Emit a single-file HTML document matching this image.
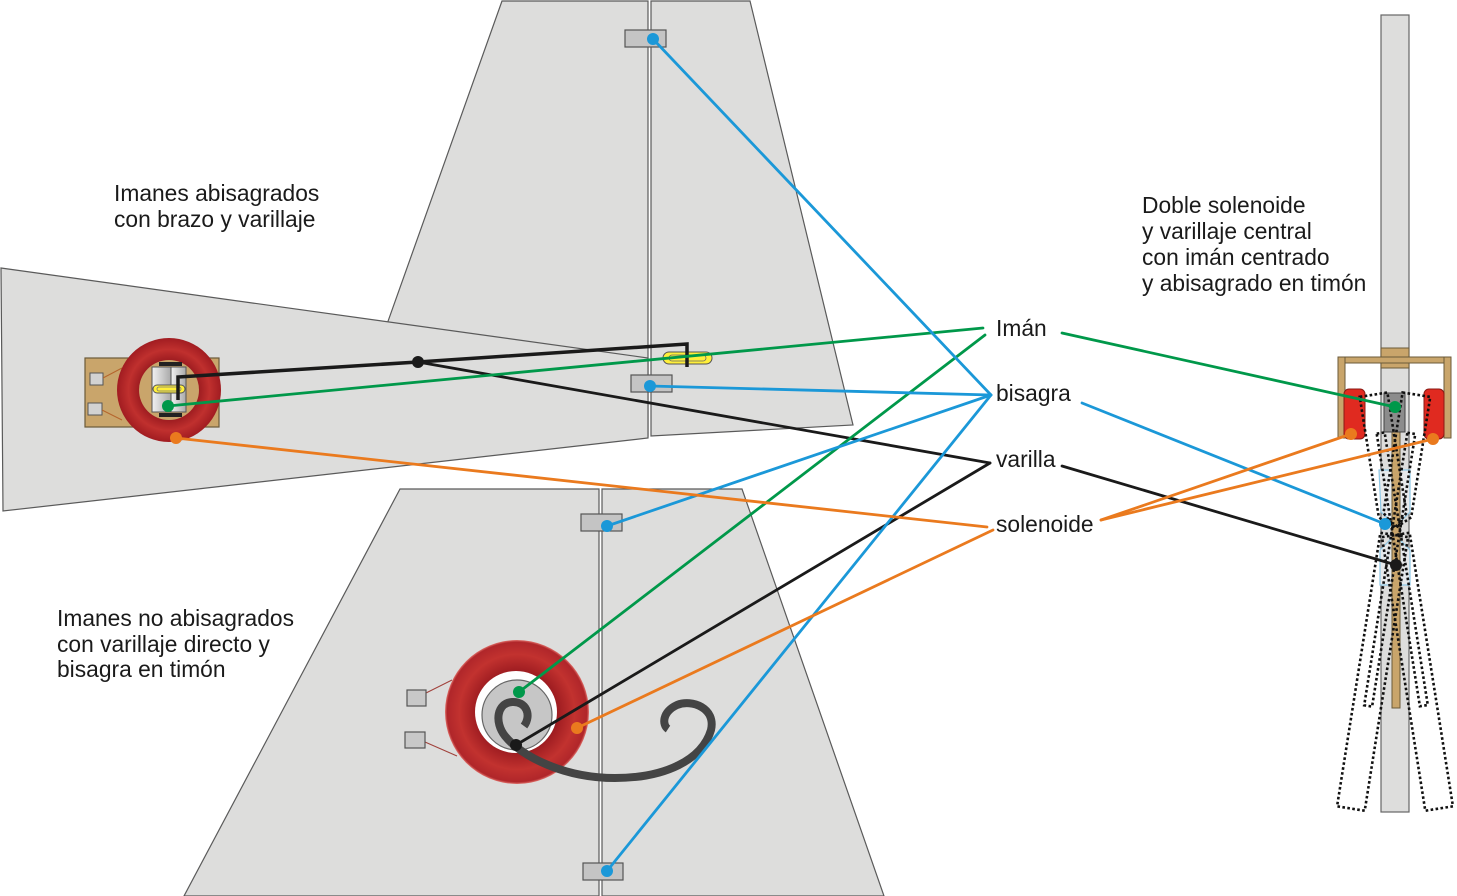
<!DOCTYPE html>
<html><head><meta charset="utf-8">
<style>
html,body{margin:0;padding:0;background:#fff;}
svg{display:block;}
text{font-family:"Liberation Sans",Arial,sans-serif;font-size:22.8px;fill:#1a1a1a;}
</style></head>
<body>
<svg width="1457" height="896" viewBox="0 0 1457 896" xmlns="http://www.w3.org/2000/svg">
<defs>
  <radialGradient id="ringL" cx="169" cy="390" r="52" gradientUnits="userSpaceOnUse">
    <stop offset="0.55" stop-color="#9a1a1f"/>
    <stop offset="0.78" stop-color="#c0302e"/>
    <stop offset="1" stop-color="#a11c21"/>
  </radialGradient>
  <radialGradient id="ringB" cx="517" cy="712" r="72" gradientUnits="userSpaceOnUse">
    <stop offset="0.55" stop-color="#9c1b20"/>
    <stop offset="0.8" stop-color="#c2322f"/>
    <stop offset="0.97" stop-color="#b0262a"/>
    <stop offset="1" stop-color="#e0706a"/>
  </radialGradient>
  <linearGradient id="grayH" x1="0" y1="0" x2="1" y2="0">
    <stop offset="0" stop-color="#f2f2f2"/>
    <stop offset="1" stop-color="#a9a9a9"/>
  </linearGradient>
</defs>

<!-- top fin -->
<polygon points="502,1 648,1 648,436 360,400" fill="#dddddc" stroke="#5a5a5a" stroke-width="1.2"/>
<polygon points="651,1 750,1 853,425 651,436" fill="#dddddc" stroke="#5a5a5a" stroke-width="1.2"/>
<!-- left horizontal panel -->
<polygon points="1,268 648,358 648,438 3,511" fill="#dddddc" stroke="#5a5a5a" stroke-width="1.2"/>
<!-- bottom fin -->
<polygon points="400,489 599,489 599,896 184,896" fill="#dddddc" stroke="#5a5a5a" stroke-width="1.2"/>
<polygon points="602,489 742,489 884,896 602,896" fill="#dddddc" stroke="#5a5a5a" stroke-width="1.2"/>

<!-- hinges -->
<rect x="625" y="30" width="41" height="17" fill="#c4c4c4" stroke="#555" stroke-width="1.2"/>
<rect x="631" y="375" width="41" height="17" fill="#c4c4c4" stroke="#555" stroke-width="1.2"/>
<rect x="581" y="514" width="41" height="17" fill="#c4c4c4" stroke="#555" stroke-width="1.2"/>
<rect x="583" y="863" width="40" height="17" fill="#c4c4c4" stroke="#555" stroke-width="1.2"/>

<!-- left solenoid assembly -->
<rect x="85" y="358" width="134" height="69" fill="#c9a56b" stroke="#6b5a3a" stroke-width="1.2"/>
<rect x="90" y="373" width="13" height="12" fill="#d2d2d2" stroke="#555" stroke-width="1"/>
<rect x="88" y="403" width="14" height="12" fill="#d2d2d2" stroke="#555" stroke-width="1"/>
<line x1="103" y1="378" x2="122" y2="368" stroke="#b5652d" stroke-width="1"/>
<line x1="102" y1="410" x2="122" y2="420" stroke="#b5652d" stroke-width="1"/>
<circle cx="169" cy="390" r="52" fill="url(#ringL)"/>
<circle cx="169" cy="390" r="30" fill="#c9a56b"/>
<rect x="152" y="367" width="19" height="45" fill="url(#grayH)" stroke="#555" stroke-width="1"/>
<rect x="171" y="367" width="15" height="45" fill="url(#grayH)" stroke="#555" stroke-width="1"/>
<rect x="159" y="362" width="23" height="4" fill="#222"/>
<rect x="159" y="413" width="23" height="4" fill="#222"/>
<rect x="153" y="385" width="32" height="8" rx="4" fill="#ffef3a" stroke="#555" stroke-width="1"/>
<rect x="157" y="387" width="24" height="4" rx="2" fill="none" stroke="#777" stroke-width="0.8"/>

<!-- bottom solenoid -->
<line x1="426" y1="693" x2="452" y2="680" stroke="#a0403a" stroke-width="1"/>
<line x1="425" y1="742" x2="457" y2="756" stroke="#a0403a" stroke-width="1"/>
<rect x="407" y="690" width="19" height="16" fill="#c8c8c8" stroke="#555" stroke-width="1.2"/>
<rect x="405" y="732" width="20" height="16" fill="#c8c8c8" stroke="#555" stroke-width="1.2"/>
<circle cx="517" cy="712" r="72" fill="url(#ringB)"/>
<circle cx="516" cy="712" r="41" fill="#ffffff"/>
<circle cx="517" cy="715" r="35" fill="#c6c6c6" stroke="#666" stroke-width="1.2"/>
<path d="M524 726 C532 715 526 701 512 702 C497 703 494 722 505 736 C522 757 565 778 615 778 C665 778 702 760 711 730 C716 708 692 699 677 705 C662 712 662 725 668 729" fill="none" stroke="#444" stroke-width="8" stroke-linecap="butt"/>

<!-- yellow clevis -->
<rect x="663" y="352" width="49" height="12" rx="6" fill="#ffef3a" stroke="#555" stroke-width="1"/>
<rect x="669" y="355" width="37" height="6" rx="3" fill="none" stroke="#666" stroke-width="0.8"/>

<!-- right diagram -->
<rect x="1381" y="15" width="28" height="797" fill="#dddddc" stroke="#666" stroke-width="1.2"/>
<polygon points="1379,470 1410,470 1410,512 1396,526 1381,512" fill="#e6e9eb" stroke="#8ec8e6" stroke-width="1.2"/>
<polygon points="1395,535 1410,550 1410,585 1380,585 1380,550" fill="#e6e9eb" stroke="#8ec8e6" stroke-width="1.2"/>
<rect x="1381" y="348" width="28" height="20" fill="#c9a56b" stroke="#6b5a3a" stroke-width="1"/>
<rect x="1338" y="357" width="113" height="6" fill="#c9a56b" stroke="#6b5a3a" stroke-width="1"/>
<rect x="1338" y="357" width="7" height="81" fill="#c9a56b" stroke="#6b5a3a" stroke-width="1"/>
<rect x="1444" y="357" width="7" height="81" fill="#c9a56b" stroke="#6b5a3a" stroke-width="1"/>
<rect x="1344" y="389" width="21" height="50" rx="5" fill="#e02a20" stroke="#8a1a14" stroke-width="1"/>
<rect x="1424" y="389" width="20" height="50" rx="5" fill="#e02a20" stroke="#8a1a14" stroke-width="1"/>
<rect x="1392" y="432" width="8" height="276" fill="#c9a56b" stroke="#6b5a3a" stroke-width="1"/>
<rect x="1384" y="393" width="21" height="39" fill="#8c8c8c" stroke="#444" stroke-width="1"/>
<g fill="none" stroke="#111" stroke-width="2.6" stroke-dasharray="2.6 2.4">
  <g transform="rotate(9 1395 530)">
    <polygon points="1381,393 1409,393 1409,515 1395,528 1381,515"/>
    <rect x="1381" y="535" width="28" height="277"/>
    <rect x="1392" y="432" width="8" height="276"/>
  </g>
  <g transform="rotate(-9 1395 530)">
    <polygon points="1381,393 1409,393 1409,515 1395,528 1381,515"/>
    <rect x="1381" y="535" width="28" height="277"/>
    <rect x="1392" y="432" width="8" height="276"/>
  </g>
</g>

<!-- connector lines -->
<g fill="none" stroke-width="2.8" stroke-linecap="round">
  <polyline points="178,400 178,377 418,362 687,344 687,367" stroke="#1a1a1a" stroke-width="3.5" stroke-linejoin="miter" stroke-linecap="butt"/>
  <line x1="418" y1="362" x2="990" y2="463" stroke="#1a1a1a"/>
  <line x1="516" y1="745" x2="990" y2="463" stroke="#1a1a1a"/>
  <line x1="1062" y1="466" x2="1396" y2="565" stroke="#1a1a1a"/>
  <line x1="168" y1="406" x2="983" y2="328" stroke="#00984a"/>
  <line x1="519" y1="692" x2="985" y2="335" stroke="#00984a"/>
  <line x1="1062" y1="333" x2="1395" y2="407" stroke="#00984a"/>
  <line x1="653" y1="39" x2="991" y2="395" stroke="#1b98d8"/>
  <line x1="650" y1="386" x2="991" y2="395" stroke="#1b98d8"/>
  <line x1="607" y1="526" x2="991" y2="395" stroke="#1b98d8"/>
  <line x1="607" y1="871" x2="991" y2="395" stroke="#1b98d8"/>
  <line x1="1082" y1="403" x2="1385" y2="524" stroke="#1b98d8"/>
  <line x1="176" y1="438" x2="987" y2="527" stroke="#ea7a1e"/>
  <line x1="577" y1="728" x2="993" y2="530" stroke="#ea7a1e"/>
  <line x1="1101" y1="520" x2="1351" y2="434" stroke="#ea7a1e"/>
  <line x1="1101" y1="520" x2="1433" y2="439" stroke="#ea7a1e"/>
</g>

<!-- dots -->
<circle cx="418" cy="362" r="6" fill="#1a1a1a"/>
<circle cx="516" cy="745" r="6" fill="#1a1a1a"/>
<circle cx="1396" cy="565" r="6" fill="#1a1a1a"/>
<circle cx="168" cy="406" r="6" fill="#00984a"/>
<circle cx="519" cy="692" r="6" fill="#00984a"/>
<circle cx="1395" cy="407" r="6" fill="#00984a"/>
<circle cx="653" cy="39" r="6" fill="#1b98d8"/>
<circle cx="650" cy="386" r="6" fill="#1b98d8"/>
<circle cx="607" cy="526" r="6" fill="#1b98d8"/>
<circle cx="607" cy="871" r="6" fill="#1b98d8"/>
<circle cx="1385" cy="524" r="6" fill="#1b98d8"/>
<circle cx="176" cy="438" r="6" fill="#ea7a1e"/>
<circle cx="577" cy="728" r="6" fill="#ea7a1e"/>
<circle cx="1351" cy="434" r="6" fill="#ea7a1e"/>
<circle cx="1433" cy="439" r="6" fill="#ea7a1e"/>

<!-- texts -->
<text x="114" y="201">Imanes abisagrados</text>
<text x="114" y="227">con brazo y varillaje</text>
<text x="1142" y="213">Doble solenoide</text>
<text x="1142" y="239">y varillaje central</text>
<text x="1142" y="265">con imán centrado</text>
<text x="1142" y="291">y abisagrado en timón</text>
<text x="57" y="626">Imanes no abisagrados</text>
<text x="57" y="652">con varillaje directo y</text>
<text x="57" y="677">bisagra en timón</text>
<text x="996" y="336">Imán</text>
<text x="996" y="401">bisagra</text>
<text x="996" y="467">varilla</text>
<text x="996" y="532">solenoide</text>
</svg>
</body></html>
